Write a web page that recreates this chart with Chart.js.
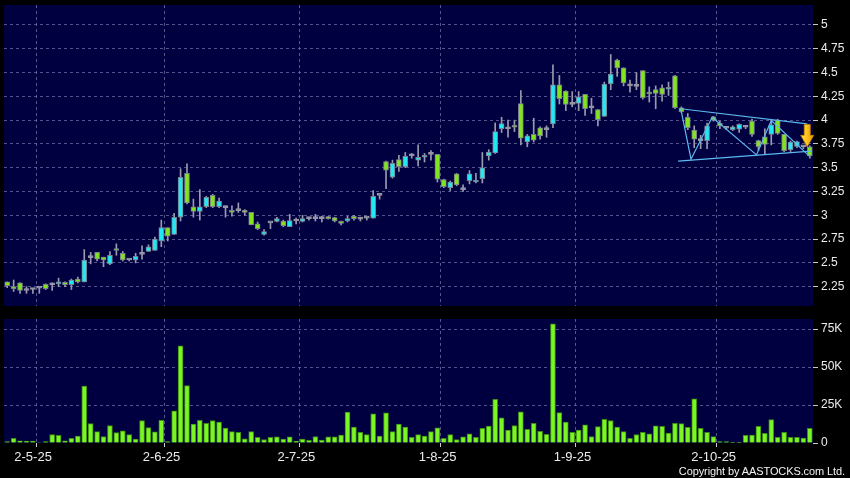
<!DOCTYPE html>
<html>
<head>
<meta charset="utf-8">
<script src="https://cdn.jsdelivr.net/npm/chart.js@4.4.1/dist/chart.umd.min.js"></script>
<style>
  html, body { margin: 0; padding: 0; background: #000; }
  #wrap { position: relative; width: 850px; height: 478px; overflow: hidden; background: #000; }
  #price_chart { position: absolute; left: 0; top: 0; }
  #volume_chart { position: absolute; left: 0; top: 310px; }
  #copyright { position: absolute; right: 5px; top: 465px; color: #f2f2f2; font: 11px "Liberation Sans", Arial, sans-serif; letter-spacing: -0.1px; white-space: nowrap; }
</style>
</head>
<body>
<div id="wrap">
  <canvas id="price_chart" width="850" height="310"></canvas>
  <canvas id="volume_chart" width="850" height="168"></canvas>
  <div id="copyright">Copyright by AASTOCKS.com Ltd.</div>
</div>
<script>
const dates = [
  '25-4-25','28-4-25','29-4-25','30-4-25',
  '2-5-25','6-5-25','7-5-25','8-5-25','9-5-25','12-5-25','13-5-25','14-5-25','15-5-25','16-5-25',
  '19-5-25','20-5-25','21-5-25','22-5-25','23-5-25','26-5-25','27-5-25','28-5-25','29-5-25','30-5-25',
  '2-6-25','3-6-25','4-6-25','5-6-25','6-6-25','9-6-25','10-6-25','11-6-25','12-6-25','13-6-25',
  '16-6-25','17-6-25','18-6-25','19-6-25','20-6-25','23-6-25','24-6-25','25-6-25','26-6-25','27-6-25','30-6-25',
  '2-7-25','3-7-25','4-7-25','7-7-25','8-7-25','9-7-25','10-7-25','11-7-25','14-7-25','15-7-25','16-7-25',
  '17-7-25','18-7-25','21-7-25','22-7-25','23-7-25','24-7-25','25-7-25','28-7-25','29-7-25','30-7-25','31-7-25',
  '1-8-25','4-8-25','5-8-25','6-8-25','7-8-25','8-8-25','11-8-25','12-8-25','13-8-25','14-8-25','15-8-25',
  '18-8-25','19-8-25','20-8-25','21-8-25','22-8-25','25-8-25','26-8-25','27-8-25','28-8-25','29-8-25',
  '1-9-25','2-9-25','3-9-25','4-9-25','5-9-25','8-9-25','9-9-25','10-9-25','11-9-25','12-9-25','15-9-25',
  '16-9-25','17-9-25','18-9-25','19-9-25','22-9-25','23-9-25','24-9-25','25-9-25','26-9-25','29-9-25','30-9-25',
  '2-10-25','3-10-25','6-10-25','8-10-25','9-10-25','10-10-25','13-10-25','14-10-25','15-10-25','16-10-25',
  '17-10-25','20-10-25','21-10-25','22-10-25','23-10-25','24-10-25'
]

const open_vals = [
  2.30, 2.245, 2.29, 2.21, 2.22, 2.235, 2.275, 2.27, 2.28, 2.295, 2.27, 2.33, 2.30, 2.555, 2.61, 2.56, 2.49, 2.64,
  2.60, 2.53, 2.53, 2.59, 2.62, 2.63, 2.73, 2.87, 2.80, 2.98, 3.44, 3.09, 3.04, 3.09, 3.21, 3.09, 3.08, 3.04,
  3.05, 3.05, 3.03, 2.91, 2.80, 2.92, 2.935, 2.94, 2.88, 2.94, 2.935, 2.965, 2.965, 2.965, 2.985, 2.975, 2.935, 2.94,
  2.99, 2.96, 2.97, 2.97, 3.21, 3.565, 3.40, 3.585, 3.51, 3.625, 3.58, 3.61, 3.64, 3.64, 3.375, 3.29, 3.435, 3.27,
  3.365, 3.35, 3.385, 3.625, 3.655, 3.91, 3.91, 3.94, 4.175, 3.77, 3.85, 3.92, 3.90, 3.96, 4.37, 4.305, 4.165, 4.175,
  4.27, 4.13, 4.11, 4.04, 4.38, 4.63, 4.55, 4.36, 4.355, 4.52, 4.29, 4.32, 4.34, 4.325, 4.465, 4.13, 4.03, 3.895,
  3.785, 3.785, 4.035, 3.97, 3.915, 3.90, 3.905, 3.925, 3.99, 3.785, 3.825, 3.85, 4.00, 3.85, 3.69, 3.725, 3.72, 3.72
]
const high_vals = [
  2.30, 2.32, 2.29, 2.25, 2.23, 2.25, 2.28, 2.29, 2.34, 2.30, 2.33, 2.35, 2.64, 2.61, 2.61, 2.56, 2.62, 2.70,
  2.62, 2.54, 2.60, 2.68, 2.69, 2.77, 2.95, 2.87, 3.02, 3.49, 3.54, 3.17, 3.27, 3.20, 3.22, 3.18, 3.10, 3.10,
  3.13, 3.06, 3.03, 2.93, 2.85, 2.92, 2.98, 2.95, 3.01, 2.97, 3.00, 2.98, 3.01, 2.99, 2.99, 2.98, 2.94, 2.99,
  3.00, 2.98, 2.98, 3.26, 3.21, 3.57, 3.58, 3.63, 3.66, 3.65, 3.74, 3.65, 3.68, 3.64, 3.38, 3.36, 3.44, 3.32,
  3.47, 3.44, 3.66, 3.69, 3.97, 4.03, 4.00, 4.00, 4.31, 3.85, 4.02, 3.93, 3.94, 4.58, 4.47, 4.31, 4.30, 4.30,
  4.27, 4.23, 4.11, 4.40, 4.69, 4.64, 4.55, 4.42, 4.50, 4.52, 4.35, 4.36, 4.37, 4.40, 4.47, 4.14, 4.07, 3.94,
  3.84, 3.97, 4.04, 3.99, 3.93, 3.94, 3.96, 3.94, 4.01, 3.79, 3.91, 4.00, 4.01, 3.85, 3.78, 3.78, 3.73, 3.73
]
const low_vals = [
  2.24, 2.20, 2.18, 2.18, 2.18, 2.18, 2.22, 2.21, 2.25, 2.25, 2.22, 2.29, 2.30, 2.49, 2.52, 2.46, 2.48, 2.58,
  2.52, 2.52, 2.50, 2.54, 2.62, 2.63, 2.67, 2.73, 2.80, 2.94, 3.12, 2.98, 2.95, 3.08, 3.08, 3.08, 2.98, 2.99,
  3.03, 3.00, 2.90, 2.85, 2.79, 2.86, 2.93, 2.88, 2.88, 2.91, 2.93, 2.95, 2.94, 2.93, 2.96, 2.93, 2.90, 2.93,
  2.95, 2.94, 2.95, 2.97, 3.17, 3.28, 3.39, 3.46, 3.50, 3.60, 3.52, 3.56, 3.58, 3.35, 3.29, 3.26, 3.31, 3.25,
  3.33, 3.34, 3.34, 3.58, 3.65, 3.87, 3.82, 3.88, 3.74, 3.72, 3.77, 3.80, 3.82, 3.92, 4.17, 4.10, 4.14, 4.10,
  4.05, 4.07, 3.94, 4.04, 4.32, 4.46, 4.36, 4.295, 4.32, 4.22, 4.19, 4.12, 4.20, 4.26, 4.12, 4.08, 3.90, 3.71,
  3.70, 3.70, 3.99, 3.91, 3.90, 3.89, 3.87, 3.91, 3.83, 3.68, 3.64, 3.74, 3.85, 3.67, 3.67, 3.71, 3.70, 3.60
]
const close_vals = [
  2.26, 2.23, 2.21, 2.21, 2.22, 2.235, 2.23, 2.27, 2.29, 2.27, 2.32, 2.30, 2.53, 2.555, 2.54, 2.53, 2.58, 2.63,
  2.53, 2.53, 2.57, 2.59, 2.67, 2.75, 2.87, 2.78, 2.98, 3.40, 3.13, 3.04, 3.09, 3.19, 3.09, 3.15, 3.08, 3.03,
  3.05, 3.03, 2.90, 2.86, 2.83, 2.92, 2.965, 2.89, 2.945, 2.94, 2.965, 2.965, 2.965, 2.965, 2.965, 2.94, 2.915, 2.965,
  2.965, 2.96, 2.97, 3.20, 3.21, 3.475, 3.545, 3.51, 3.62, 3.625, 3.61, 3.63, 3.64, 3.38, 3.30, 3.35, 3.32, 3.27,
  3.435, 3.37, 3.50, 3.665, 3.88, 3.965, 3.91, 3.925, 3.81, 3.835, 3.79, 3.835, 3.90, 4.37, 4.225, 4.165, 4.165, 4.245,
  4.12, 4.13, 4.005, 4.38, 4.485, 4.55, 4.39, 4.36, 4.355, 4.235, 4.275, 4.28, 4.27, 4.345, 4.13, 4.09, 3.92, 3.80,
  3.785, 3.94, 4.00, 3.94, 3.915, 3.93, 3.955, 3.925, 3.85, 3.72, 3.745, 3.95, 3.86, 3.68, 3.77, 3.775, 3.72, 3.625
]
const volumes = [
  1000, 3000, 1500, 1300, 1300, 300, 1000, 5500, 5000, 1500, 3000, 4500, 37500, 12800, 7500, 4300, 11500, 6800,
  8000, 5500, 2500, 14800, 10200, 7300, 15000, 1000, 21200, 64000, 37800, 12500, 15000, 13000, 14800, 13800, 9800, 7500,
  7000, 2800, 7500, 3800, 2300, 3800, 4000, 2500, 4000, 1200, 2500, 1800, 4300, 2000, 4000, 4000, 5200, 20300,
  10500, 7000, 5500, 19200, 4500, 19800, 7500, 12500, 10500, 3800, 5500, 4500, 7500, 10000, 3000, 5500, 2200, 4000,
  6000, 3800, 9600, 11200, 28700, 16500, 8500, 11500, 20500, 9000, 13000, 7700, 5700, 78400, 20000, 13700, 7000, 8500,
  12000, 4300, 10800, 15600, 14800, 10500, 7500, 3000, 5500, 7000, 6000, 11300, 11000, 6500, 13000, 12800, 10300, 29000,
  9600, 7000, 4300, 1000, 1000, 500, 500, 5000, 5200, 11000, 6300, 15400, 3800, 7000, 3800, 3800, 3300, 9600
]

const price_ticks = [2.25, 2.5, 2.75, 3, 3.25, 3.5, 3.75, 4, 4.25, 4.5, 4.75, 5]
const volume_ticks = [0, 25000, 50000, 75000]
const label_dates = ['2-5-25', '2-6-25', '2-7-25', '1-8-25', '1-9-25', '2-10-25']

// triangle drawn on the last weeks (x in bar index units)
const upper_x = [104.9, 124.6]
const upper_y = [4.12, 3.96]
const lower_x = [104.5, 125.2]
const lower_y = [3.57, 3.675]
const zigzag_x = [104.9, 106.5, 109.8, 116.7, 119.0, 124.9]
const zigzag_y = [4.12, 3.59, 4.03, 3.635, 3.995, 3.625]
const arrow_x = 124.6
const arrow_y = [3.955, 3.84, 3.72]

const panel_color = '#000040'
const grid_color = 'rgba(105,105,160,0.8)'
const up_color = '#22e8f2'
const down_color = '#80e41e'
const doji_color = '#9898a8'
const font_family = '"Liberation Sans", Arial, sans-serif'

Chart.defaults.animation = false
Chart.defaults.font.family = font_family
Chart.defaults.font.size = 12

// month boundaries: right edge of the first bar of each month
month_ticks = label_dates.map(d => dates.indexOf(d) + 0.5)

function candle_color(ctx) {
  i = ctx.dataIndex
  if (close_vals[i] > open_vals[i]) return up_color
  if (close_vals[i] < open_vals[i]) return down_color
  return doji_color
}

function pts(xs, ys) {
  return xs.map((x, i) => ({x: x, y: ys[i]}))
}

function no_pad(axis) {
  axis.paddingTop = 0
  axis.paddingBottom = 0
  axis.paddingLeft = 0
  axis.paddingRight = 0
}

panel_bg = {
  id: 'panel_bg',
  beforeDraw(chart) {
    a = chart.chartArea
    chart.ctx.save()
    chart.ctx.fillStyle = panel_color
    chart.ctx.fillRect(a.left, a.top, a.right - a.left, a.bottom - a.top)
    chart.ctx.restore()
  }
}

down_arrow = {
  id: 'down_arrow',
  afterDatasetsDraw(chart) {
    x = chart.scales.x.getPixelForValue(arrow_x)
    y0 = chart.scales.y.getPixelForValue(arrow_y[0])
    y1 = chart.scales.y.getPixelForValue(arrow_y[1])
    y2 = chart.scales.y.getPixelForValue(arrow_y[2])
    c = chart.ctx
    c.save()
    c.beginPath()
    c.moveTo(x - 3, y0)
    c.lineTo(x + 3, y0)
    c.lineTo(x + 3, y1)
    c.lineTo(x + 6.5, y1)
    c.lineTo(x, y2)
    c.lineTo(x - 6.5, y1)
    c.lineTo(x - 3, y1)
    c.closePath()
    g = c.createLinearGradient(x - 6, 0, x + 6, 0)
    g.addColorStop(0, '#ffe04a')
    g.addColorStop(0.5, '#ffc21a')
    g.addColorStop(1, '#e09a00')
    c.fillStyle = g
    c.fill()
    c.strokeStyle = '#c88400'
    c.lineWidth = 0.8
    c.stroke()
    c.restore()
  }
}

x_common = {
  type: 'linear',
  offset: false,
  min: -0.5,
  max: dates.length - 0.5,
  afterBuildTicks: axis => { axis.ticks = month_ticks.map(v => ({value: v})) },
}

price_chart = new Chart(document.getElementById('price_chart').getContext('2d'), {
  type: 'bar',
  data: {
    datasets: [
      {
        label: 'wick',
        data: low_vals.map((l, i) => ({x: i, y: [l, high_vals[i]]})),
        backgroundColor: '#9a9aae',
        barThickness: 1,
        grouped: false,
        order: 3,
      },
      {
        label: 'body',
        data: open_vals.map((o, i) => ({x: i, y: [o, close_vals[i]]})),
        backgroundColor: candle_color,
        borderColor: ctx => (candle_color(ctx) == doji_color ? doji_color : '#7c7e90'),
        borderWidth: 1,
        borderSkipped: false,
        minBarLength: 2,
        barThickness: 5,
        grouped: false,
        order: 2,
      },
      {
        type: 'line',
        label: 'upper',
        data: pts(upper_x, upper_y),
        borderColor: '#5cb8ee',
        borderWidth: 1.2,
        pointRadius: 0,
        order: 1,
      },
      {
        type: 'line',
        label: 'lower',
        data: pts(lower_x, lower_y),
        borderColor: '#5cb8ee',
        borderWidth: 1.2,
        pointRadius: 0,
        order: 1,
      },
      {
        type: 'line',
        label: 'zigzag',
        data: pts(zigzag_x, zigzag_y),
        borderColor: '#5cb8ee',
        borderWidth: 1.2,
        pointRadius: 0,
        order: 1,
      },
    ]
  },
  options: {
    responsive: false,
    layout: {padding: {left: 4, top: 5, right: 0, bottom: 4}},
    plugins: {legend: {display: false}, tooltip: {enabled: false}},
    scales: {
      x: {
        ...x_common,
        grid: {offset: false, color: grid_color, drawTicks: false},
        border: {display: false, dash: [3, 3]},
        ticks: {display: false},
        afterFit: axis => { axis.height = 0; no_pad(axis) },
      },
      y: {
        position: 'right',
        min: 2.047,
        max: 5.21,
        afterBuildTicks: axis => { axis.ticks = price_ticks.map(v => ({value: v})) },
        grid: {color: grid_color, tickColor: '#c8c8c8', tickBorderDash: [], tickLength: 5},
        border: {display: false, dash: [3, 3]},
        ticks: {color: '#ececec', padding: 3, callback: v => String(+v.toFixed(2))},
        afterFit: axis => { axis.width = 37; no_pad(axis) },
      }
    }
  },
  plugins: [panel_bg, down_arrow]
})

volume_chart = new Chart(document.getElementById('volume_chart').getContext('2d'), {
  type: 'bar',
  data: {
    datasets: [{
      label: 'volume',
      data: volumes.map((v, i) => ({x: i, y: v})),
      backgroundColor: '#7cf524',
      borderColor: '#3c8c14',
      borderWidth: 1,
      borderSkipped: 'start',
      barThickness: 5,
    }]
  },
  options: {
    responsive: false,
    layout: {padding: {left: 4, top: 9, right: 0, bottom: 0}},
    plugins: {legend: {display: false}, tooltip: {enabled: false}},
    scales: {
      x: {
        ...x_common,
        grid: {offset: false, color: grid_color, tickColor: '#d0d0d0', tickBorderDash: [], tickLength: 4},
        border: {display: false, dash: [3, 3]},
        ticks: {
          maxRotation: 0, minRotation: 0, padding: 3, labelOffset: -3, color: '#ececec', font: {size: 13},
          callback: v => dates[Math.round(v - 0.5)],
        },
        afterFit: axis => { axis.height = 35; no_pad(axis) },
      },
      y: {
        position: 'right',
        min: 0,
        max: 81600,
        afterBuildTicks: axis => { axis.ticks = volume_ticks.map(v => ({value: v})) },
        grid: {
          color: ctx => (ctx.tick && ctx.tick.value > 0 ? grid_color : 'rgba(0,0,0,0)'),
          tickColor: '#c8c8c8', tickBorderDash: [], tickLength: 5,
        },
        border: {display: false, dash: [3, 3]},
        ticks: {color: '#ececec', padding: 3, callback: v => (v == 0 ? '0' : v / 1000 + 'K')},
        afterFit: axis => { axis.width = 37; no_pad(axis) },
      }
    }
  },
  plugins: [panel_bg]
})
</script>
</body>
</html>
